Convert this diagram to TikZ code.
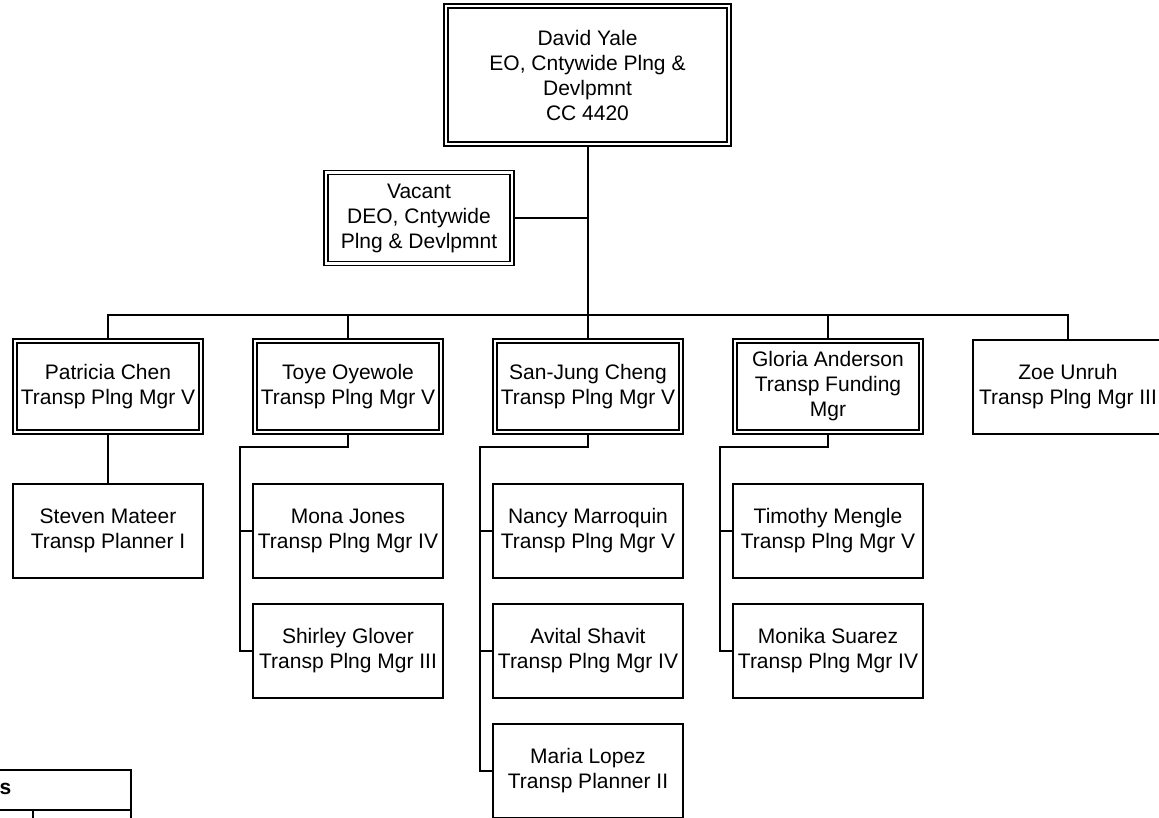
\documentclass[tikz,border=0pt]{standalone}
\usepackage{fontspec}
\setmainfont{Liberation Sans}
\usepackage{tikz}
\usetikzlibrary{positioning,calc}

\begin{document}
\begin{tikzpicture}[
  x=1pt, y=-1pt,
  every node/.style = {align=center, font=\fontsize{21}{25}\selectfont},
  mgr/.style   = {rectangle, draw, line width=1.6pt, double, double distance=2.6pt,
                  minimum width=186pt, minimum height=91pt,
                  inner sep=0pt, outer sep=2.9pt},
  staff/.style = {rectangle, draw, line width=2pt,
                  minimum width=190pt, minimum height=94pt,
                  inner sep=0pt, outer sep=1pt},
  link/.style  = {line width=2pt},
  cell/.style  = {line width=2pt},
]
\useasboundingbox (0,0) rectangle (1159,818);
\clip (0,0) rectangle (1159,818);

% ── Direccion ────────────────────────────────────────────────
\node[mgr, minimum width=283pt, minimum height=138pt] (dy) at (587.5,75)
  {David Yale\\EO, Cntywide Plng \&\\Devlpmnt\\CC 4420};
\node[mgr] (vac) at (419,218) {Vacant\\DEO, Cntywide\\Plng \& Devlpmnt};
\coordinate (bar) at (587.5,315);

% ── Gerentes ─────────────────────────────────────────────────
\node[mgr]   (pc)  at (108,386.5)  {Patricia Chen\\Transp Plng Mgr V};
\node[mgr]   (toy) at (348,386.5)  {Toye Oyewole\\Transp Plng Mgr V};
\node[mgr]   (sjc) at (588,386.5)  {San-Jung Cheng\\Transp Plng Mgr V};
\node[mgr]   (ga)  at (828,386.5)  {Gloria Anderson\\Transp Funding\\Mgr};
\node[staff] (zu)  at (1068,386.5) {Zoe Unruh\\Transp Plng Mgr III};

% ── Personal ─────────────────────────────────────────────────
\node[staff] (sm)  at (108,531) {Steven Mateer\\Transp Planner I};
\node[staff] (mj)  at (348,531) {Mona Jones\\Transp Plng Mgr IV};
\node[staff] (sg)  at (348,651) {Shirley Glover\\Transp Plng Mgr III};
\node[staff] (nm)  at (588,531) {Nancy Marroquin\\Transp Plng Mgr V};
\node[staff] (avs) at (588,651) {Avital Shavit\\Transp Plng Mgr IV};
\node[staff] (ml)  at (588,771) {Maria Lopez\\Transp Planner II};
\node[staff] (tm)  at (828,531) {Timothy Mengle\\Transp Plng Mgr V};
\node[staff] (mss) at (828,651) {Monika Suarez\\Transp Plng Mgr IV};

\coordinate (toyK) at (240,447);
\coordinate (sjcK) at (480,447);
\coordinate (gaK)  at (720,447);

% ── Lineas de mando ──────────────────────────────────────────
\draw[link] (dy) -- (bar);
\draw[link] (vac.east) -- (vac.east -| dy.south);
\foreach \m in {pc,toy,sjc,ga,zu}
  \draw[link] (bar) -| (\m.north);
\draw[link] (pc) -- (sm);

\draw[link] (toy.south) |- (toyK) |- (sg.west);
\draw[link] (toyK |- mj.west) -- (mj.west);

\draw[link] (sjc.south) |- (sjcK) |- (ml.west);
\foreach \s in {nm,avs}
  \draw[link] (sjcK |- \s.west) -- (\s.west);

\draw[link] (ga.south) |- (gaK) |- (mss.west);
\draw[link] (gaK |- tm.west) -- (tm.west);

% ── Leyenda (recortada) ──────────────────────────────────────
\draw[cell] (-10,770) rectangle (131,840);
\draw[line width=1.5pt] (-10,810) -- (131,810);
\draw[line width=1.2pt] (33,810) -- (33,840);
\node[anchor=base west, inner sep=0pt, font=\fontsize{21}{25}\selectfont\bfseries]
  (leg) at (-0.6,794) {s};

\end{tikzpicture}
\end{document}
